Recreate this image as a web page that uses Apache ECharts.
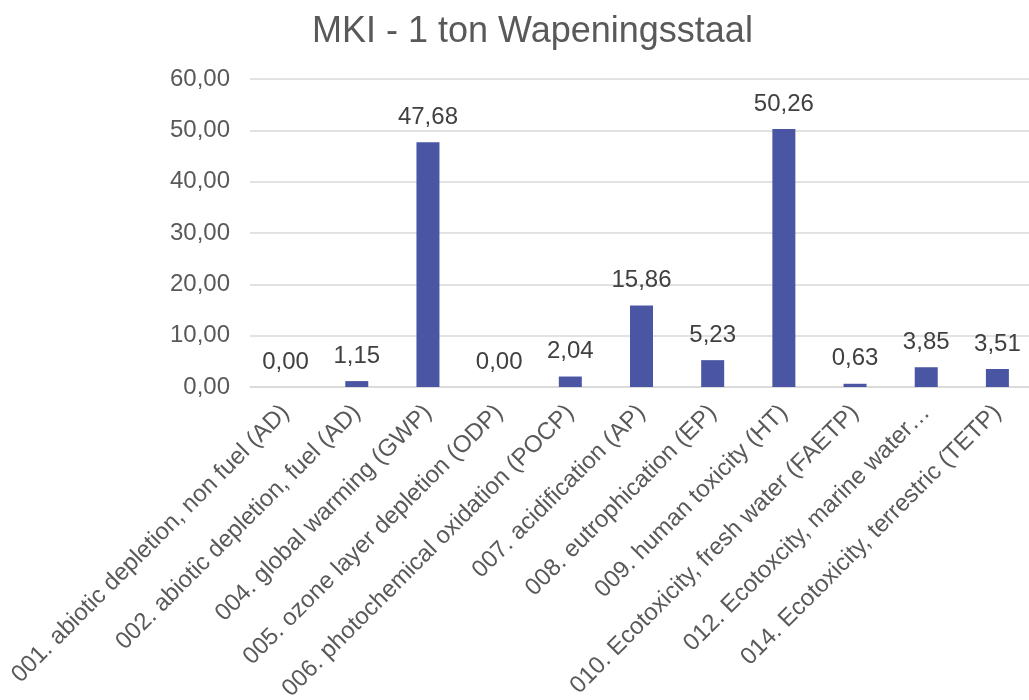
<!DOCTYPE html>
<html>
<head>
<meta charset="utf-8">
<title>MKI - 1 ton Wapeningsstaal</title>
<script src="https://cdn.jsdelivr.net/npm/echarts@6/dist/echarts.min.js"></script>
<style>
  html, body { margin: 0; padding: 0; background: #ffffff; }
  #chart { width: 1029px; height: 700px; }
</style>
</head>
<body>
<div id="chart"></div>
<script>
// Impact categories (x axis)
const categories = [
  '001. abiotic depletion, non fuel (AD)',
  '002. abiotic depletion, fuel (AD)',
  '004. global warming (GWP)',
  '005. ozone layer depletion (ODP)',
  '006. photochemical oxidation (POCP)',
  '007. acidification (AP)',
  '008. eutrophication (EP)',
  '009. human toxicity (HT)',
  '010. Ecotoxicity, fresh water (FAETP)',
  '012. Ecotoxcity, marine water…',
  '014. Ecotoxicity, terrestric (TETP)'
];

// MKI value per category
const values = [0.00, 1.15, 47.68, 0.00, 2.04, 15.86, 5.23, 50.26, 0.63, 3.85, 3.51];

// Value axis range
const yMin = 0;
const yMax = 60;
const yStep = 10;

// Dutch decimal notation
const fmt = v => Number(v).toFixed(2).replace('.', ',');

const chart = echarts.init(document.getElementById('chart'), null, { renderer: 'canvas' });

chart.setOption({
  backgroundColor: '#ffffff',
  animation: false,
  title: {
    text: 'MKI - 1 ton Wapeningsstaal',
    left: 307,
    top: 9,
    textStyle: {
      fontFamily: 'Liberation Sans, Arial, sans-serif',
      fontSize: 36,
      fontWeight: 'normal',
      color: '#595959'
    }
  },
  grid: {
    left: 250,
    top: 79,
    width: 783,
    bottom: 313,
    containLabel: false,
    outerBoundsMode: 'none'
  },
  xAxis: {
    type: 'category',
    data: categories,
    axisLine: { show: true, lineStyle: { color: '#d9d9d9', width: 1.5 } },
    axisTick: { show: false },
    axisLabel: {
      interval: 0,
      rotate: 45,
      margin: 22,
      fontFamily: 'Liberation Sans, Arial, sans-serif',
      fontSize: 24,
      color: '#595959'
    }
  },
  yAxis: {
    type: 'value',
    min: yMin,
    max: yMax,
    interval: yStep,
    axisLine: { show: false },
    axisTick: { show: false },
    splitLine: { lineStyle: { color: '#d9d9d9', width: 1.5 } },
    axisLabel: {
      margin: 20,
      formatter: v => fmt(v),
      fontFamily: 'Liberation Sans, Arial, sans-serif',
      fontSize: 24,
      color: '#595959'
    }
  },
  series: [{
    type: 'bar',
    data: values,
    barWidth: 23,
    itemStyle: { color: '#4A55A3' },
    label: {
      show: true,
      position: 'top',
      distance: 13,
      formatter: p => fmt(p.value),
      fontFamily: 'Liberation Sans, Arial, sans-serif',
      fontSize: 24,
      color: '#404040'
    }
  }]
});
</script>
</body>
</html>
